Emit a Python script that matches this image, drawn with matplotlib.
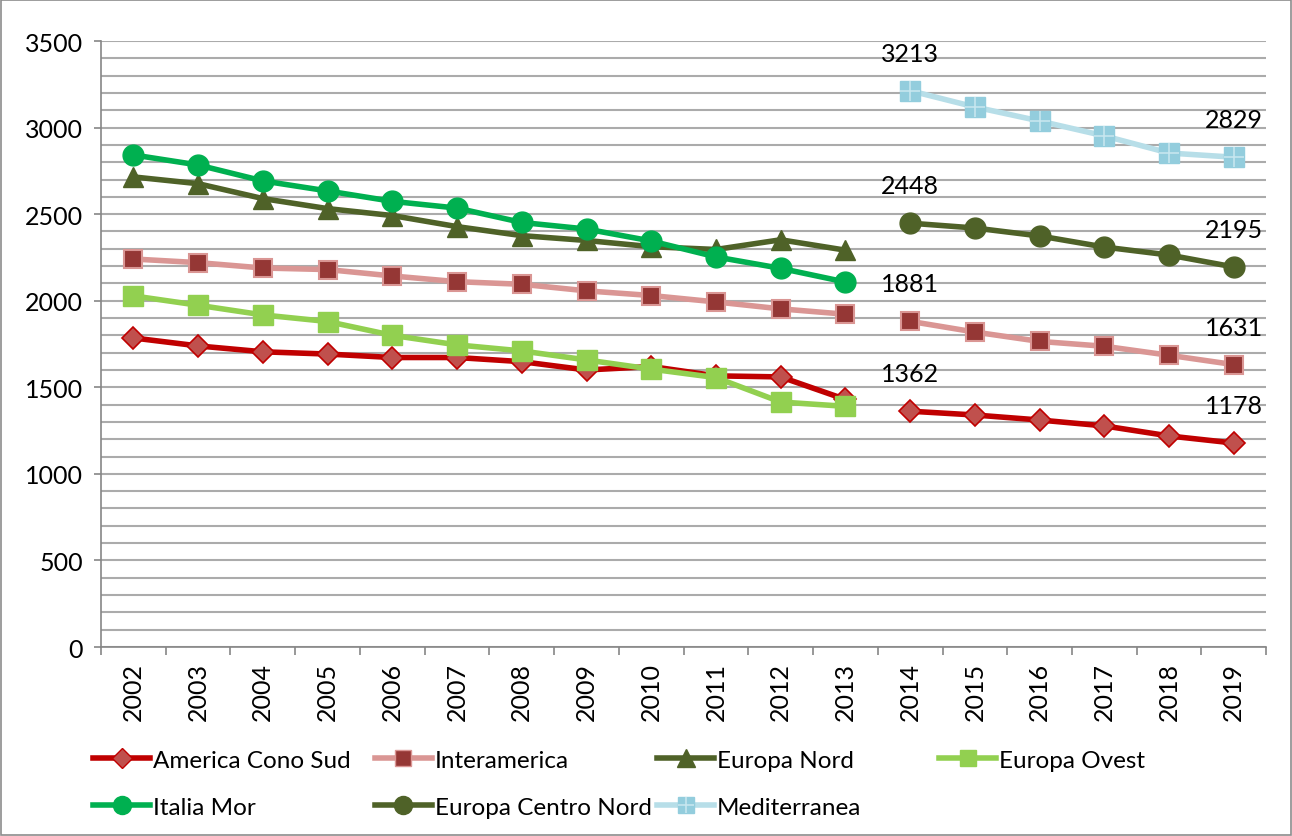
import numpy as np
import matplotlib
matplotlib.use("Agg")
import matplotlib.pyplot as plt
from matplotlib.lines import Line2D
from matplotlib.patches import Rectangle
from matplotlib.legend_handler import HandlerTuple

plt.rcParams["font.family"] = ["Lato", "DejaVu Sans"]

years = list(range(2002, 2020))
yrs_a = years[:12]   # 2002-2013
yrs_b = years[12:]   # 2014-2019

america_a = [1785, 1739, 1705, 1692, 1672, 1672, 1648, 1600, 1620, 1566, 1560, 1430]
america_b = [1362, 1340, 1311, 1277, 1219, 1178]
inter_a = [2241, 2220, 2189, 2180, 2143, 2110, 2095, 2057, 2030, 1993, 1953, 1922]
inter_b = [1881, 1819, 1765, 1737, 1685, 1631]
nord_a = [2715, 2676, 2590, 2532, 2492, 2428, 2376, 2348, 2312, 2296, 2352, 2292]
ovest_a = [2028, 1974, 1918, 1880, 1800, 1745, 1710, 1658, 1605, 1556, 1415, 1390]
italia_a = [2842, 2784, 2692, 2634, 2574, 2535, 2452, 2414, 2345, 2253, 2187, 2108]
centro_b = [2448, 2420, 2374, 2310, 2264, 2195]
medit_b = [3213, 3119, 3038, 2952, 2853, 2829]

xa = np.arange(len(yrs_a))
xb = np.arange(len(yrs_a), len(years))
FS = 18
LFS = 17.5

fig = plt.figure(figsize=(12.92, 8.37), dpi=100)
ax = fig.add_axes([0.0782, 0.2258, 0.9018, 0.724])
fig.patches.append(Rectangle((0.0008, 0.0008), 0.9984, 0.9984, transform=fig.transFigure,
                             fill=False, edgecolor="#8c8c8c", lw=1.2))

lw = 4.0
ax.plot(xa, america_a, color="#C00000", lw=lw, marker="D", ms=11,
        mfc="#C0504D", mec="#C00000", mew=1.2, zorder=3)
ax.plot(xb, america_b, color="#C00000", lw=lw, marker="D", ms=11,
        mfc="#C0504D", mec="#C00000", mew=1.2, zorder=3)
ax.plot(xa, inter_a, color="#DA9694", lw=lw, marker="s", ms=13,
        mfc="#953735", mec="#DA9694", mew=1.5, zorder=3)
ax.plot(xb, inter_b, color="#DA9694", lw=lw, marker="s", ms=13,
        mfc="#953735", mec="#DA9694", mew=1.5, zorder=3)
ax.plot(xa, nord_a, color="#4F6228", lw=lw, marker="^", ms=15,
        mfc="#4F6228", mec="#4F6228", zorder=3)
ax.plot(xa, ovest_a, color="#92D050", lw=lw, marker="s", ms=14,
        mfc="#92D050", mec="#92D050", zorder=3)
ax.plot(xa, italia_a, color="#00B050", lw=lw, marker="o", ms=15,
        mfc="#00B050", mec="#00B050", zorder=3)
ax.plot(xb, centro_b, color="#4F6228", lw=lw, marker="o", ms=15,
        mfc="#4F6228", mec="#4F6228", zorder=3)
ax.plot(xb, medit_b, color="#B7DEE8", lw=lw, marker="s", ms=14,
        mfc="#93CDDD", mec="#93CDDD", zorder=3)
ax.plot(xb, medit_b, ls="none", marker="+", ms=14, mew=1.2,
        color="#C6E6EF", zorder=4)

# data labels at the first and last point of the second period
for series in [america_b, inter_b, centro_b, medit_b]:
    for i in (0, -1):
        ax.annotate(str(series[i]), (xb[i], series[i]), xytext=(0, 27),
                    textcoords="offset points", ha="center", va="center", fontsize=FS)

ax.set_xlim(-0.5, len(years) - 0.5)
ax.set_ylim(0, 3500)
ax.set_yticks(np.arange(0, 3501, 500))
ax.set_yticks(np.arange(0, 3501, 100), minor=True)
ax.grid(True, axis="y", which="both", color="#ababab", lw=1.5, zorder=0)
ax.set_axisbelow(True)
ax.set_xticks(np.arange(len(years)))
ax.set_xticklabels([str(y) for y in years], rotation=90, fontsize=FS)
ax.set_xticks(np.arange(-0.5, len(years)), minor=True)
ax.tick_params(axis="x", which="major", length=0, pad=11)
ax.tick_params(axis="x", which="minor", length=6, color="#868686", width=1.2)
ax.tick_params(axis="y", which="major", length=5, color="#868686", width=1.2,
               labelsize=FS, pad=8)
ax.tick_params(axis="y", which="minor", length=0)
for s in ["top", "right"]:
    ax.spines[s].set_visible(False)
for s in ["left", "bottom"]:
    ax.spines[s].set_color("#868686")
    ax.spines[s].set_linewidth(1.2)


def lh(color, marker, ms, mfc, mec):
    return Line2D([], [], color=color, lw=lw, marker=marker, ms=ms, mfc=mfc, mec=mec)


cols = [
    ([lh("#C00000", "D", 10, "#C0504D", "#C00000"), lh("#00B050", "o", 13, "#00B050", "#00B050")],
     ["America Cono Sud", "Italia Mor"], 0.072),
    ([lh("#DA9694", "s", 12, "#953735", "#DA9694"), lh("#4F6228", "o", 13, "#4F6228", "#4F6228")],
     ["Interamerica", "Europa Centro Nord"], 0.290),
    ([lh("#4F6228", "^", 13, "#4F6228", "#4F6228"),
      (lh("#B7DEE8", "s", 12, "#93CDDD", "#93CDDD"),
       Line2D([], [], ls="none", marker="+", ms=12, mew=1.2, color="#C6E6EF"))],
     ["Europa Nord", "Mediterranea"], 0.5085),
    ([lh("#92D050", "s", 12, "#92D050", "#92D050")], ["Europa Ovest"], 0.7268),
]
for handles, labels, x0 in cols:
    fig.legend(handles, labels, loc="upper left", bbox_to_anchor=(x0, 0.103),
               frameon=False, fontsize=LFS, handlelength=2.35, handletextpad=0.12,
               labelspacing=1.07, borderpad=0, borderaxespad=0,
               handler_map={tuple: HandlerTuple(ndivide=1, pad=0)})

fig.savefig("out.png", dpi=100)
